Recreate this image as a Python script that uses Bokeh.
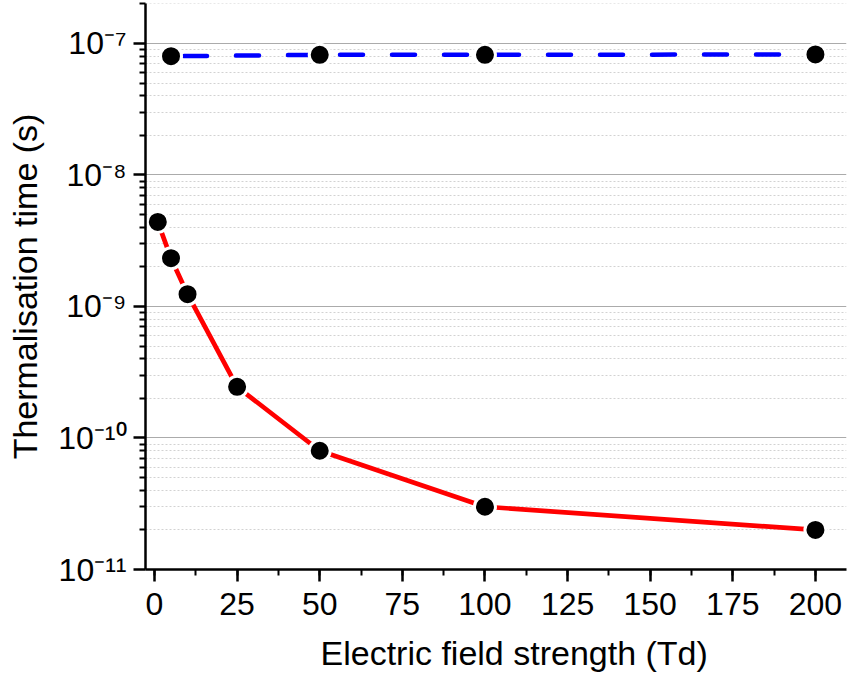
from bokeh.plotting import figure
from bokeh.models import Range1d, FixedTicker, SingleIntervalTicker, Title
from bokeh.embed import file_html
from bokeh.resources import INLINE

# ---- data ----
E_FIELD_RED = [1, 5, 10, 25, 50, 100, 200]
TIME_RED = [4.4e-9, 2.33e-9, 1.24e-9, 2.45e-10, 8.0e-11, 3.0e-11, 2.0e-11]
E_FIELD_BLUE = [5, 50, 100, 200]
TIME_BLUE = [8.0e-8, 8.2e-8, 8.2e-8, 8.25e-8]
Y_EXPONENTS = [-11, -10, -9, -8, -7]
SUP = {"-": "\u207b", "0": "\u2070", "1": "\u00b9", "2": "\u00b2", "3": "\u00b3",
       "4": "\u2074", "5": "\u2075", "6": "\u2076", "7": "\u2077", "8": "\u2078", "9": "\u2079"}
Y_TICK_LABELS = ["10" + "".join(SUP[c] for c in str(e)) for e in Y_EXPONENTS]
X_LABEL = "Electric field strength (Td)"
Y_LABEL = "Thermalisation time (s)"

X_START, X_END = -2.72, 209.4
Y_START, Y_END = 1e-11, 2.014e-7
FONT = "Liberation Sans"

p = figure(width=847, height=686, x_range=Range1d(X_START, X_END),
           y_range=Range1d(Y_START, Y_END), y_axis_type="log",
           output_backend="svg", toolbar_location=None,
           min_border_left=145, min_border_right=1, min_border_top=3,
           min_border_bottom=117)
p.outline_line_color = None
p.background_fill_color = "white"

# grid
p.xgrid.visible = False
p.ygrid.grid_line_color = "#ababab"
p.ygrid.grid_line_width = 1
p.ygrid.minor_grid_line_color = "#d2d2d2"
p.ygrid.minor_grid_line_dash = "2 2"

# tickers
major_y = [10.0 ** e for e in Y_EXPONENTS]
minor_y = [m * 10.0 ** e for e in Y_EXPONENTS for m in range(2, 10) if m * 10.0 ** e <= Y_END]
p.yaxis.ticker = FixedTicker(ticks=major_y, minor_ticks=minor_y)
p.yaxis.major_label_overrides = {t: lab for t, lab in zip(major_y, Y_TICK_LABELS)}
p.xaxis.ticker = SingleIntervalTicker(interval=25, num_minor_ticks=2)

for ax in (p.xaxis[0], p.yaxis[0]):
    ax.axis_line_width = 2.5
    ax.axis_line_color = "black"
    ax.major_tick_in = 0
    ax.major_tick_out = 12
    ax.minor_tick_in = 0
    ax.minor_tick_out = 6
    ax.major_tick_line_width = 2.5
    ax.minor_tick_line_width = 2
    ax.major_tick_line_color = "black"
    ax.minor_tick_line_color = "black"
    ax.major_label_text_font = FONT
    ax.major_label_text_font_size = "32px"
    ax.major_label_text_color = "black"

p.xaxis.major_label_standoff = 11
p.yaxis.major_label_standoff = 7

p.yaxis.axis_label = Y_LABEL
p.yaxis.axis_label_text_font = FONT
p.yaxis.axis_label_text_font_size = "34px"
p.yaxis.axis_label_text_font_style = "normal"
p.yaxis.axis_label_text_color = "black"
p.yaxis.axis_label_standoff = 11

# x axis title (slightly right of the frame centre, as in the reference)
p.add_layout(Title(text=X_LABEL, align="left", offset=175, text_font=FONT,
                   text_font_size="34px", text_font_style="normal",
                   text_color="black", standoff=28), "below")

# lines
p.line(E_FIELD_RED, TIME_RED, line_color="#ff0000", line_width=4.7, line_cap="round")
p.line(E_FIELD_BLUE, TIME_BLUE, line_color="#0000ff", line_width=4.5,
       line_dash="23 29", line_dash_offset=39, line_cap="round")

# markers
p.scatter(E_FIELD_RED, TIME_RED, size=21, fill_color="black", line_color="white", line_width=3)
p.scatter(E_FIELD_BLUE, TIME_BLUE, size=21, fill_color="black", line_color="white", line_width=3)

open("out.html", "w").write(file_html(p, INLINE))
